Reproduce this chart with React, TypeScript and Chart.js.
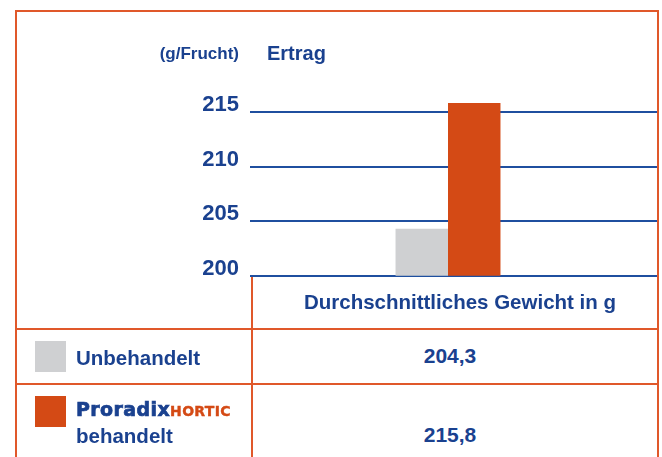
import React, { useEffect, useRef } from "react";
import { Chart, registerables } from "chart.js";

Chart.register(...registerables);

const categories = ["Durchschnittliches Gewicht in g"];
const seriesNames = ["Unbehandelt", "Proradix HORTIC behandelt"];
const untreated = [204.3];
const treated = [215.8];
const tableValues = ["204,3", "215,8"];
const yTicks = [200, 205, 210, 215];
const yMin = 200;
const yMax = 217;

const BLUE = "#1a418f";
const GRID = "#1f4f9f";
const ORANGE = "#d44a15";
const BORDER = "#e0582a";
const GRAY = "#cfd0d2";
const FONT = "'Liberation Sans', Arial, sans-serif";

const gridExtend = {
  id: "gridExtend",
  beforeDatasetsDraw(chart: any) {
    const y = chart.scales.y;
    const ctx = chart.ctx;
    ctx.save();
    ctx.strokeStyle = GRID;
    ctx.lineWidth = 2;
    y.ticks.forEach((t: any) => {
      const py = Math.round(y.getPixelForValue(t.value));
      ctx.beginPath();
      ctx.moveTo(chart.chartArea.right, py);
      ctx.lineTo(658, py);
      ctx.stroke();
    });
    ctx.restore();
  },
};

function T(props: { left: number; top: number; size: number; children: any; width?: number; align?: any; color?: string }) {
  const { left, top, size, children, width, align, color } = props;
  return (
    <div
      style={{
        position: "absolute",
        left,
        top,
        width,
        textAlign: align || "left",
        fontFamily: FONT,
        fontWeight: "bold",
        fontSize: size,
        lineHeight: `${size}px`,
        color: color || BLUE,
        whiteSpace: "nowrap",
      }}
    >
      {children}
    </div>
  );
}

function Line(props: { left: number; top: number; width: number; height: number }) {
  return <div style={{ position: "absolute", background: BORDER, ...props }} />;
}

export default function App() {
  const ref = useRef<HTMLCanvasElement>(null);
  useEffect(() => {
    if (!ref.current) return;
    const chart = new Chart(ref.current, {
      type: "bar",
      data: {
        labels: categories,
        datasets: [
          { label: seriesNames[0], data: untreated, backgroundColor: GRAY, borderWidth: 0 },
          { label: seriesNames[1], data: treated, backgroundColor: ORANGE, borderWidth: 0 },
        ],
      },
      options: {
        animation: false,
        responsive: false,
        events: [],
        layout: { padding: { top: 90, bottom: 24, left: 0, right: 16 } },
        datasets: { bar: { categoryPercentage: 0.265, barPercentage: 1 } },
        plugins: { legend: { display: false }, tooltip: { enabled: false } },
        scales: {
          x: { display: false },
          y: {
            min: yMin,
            max: yMax,
            afterBuildTicks: (s: any) => {
              s.ticks = yTicks.map((v) => ({ value: v }));
            },
            afterFit: (s: any) => {
              s.width = 250;
            },
            border: { display: false },
            grid: { color: GRID, lineWidth: 2, drawTicks: false },
            ticks: {
              padding: 11,
              labelOffset: -7,
              color: BLUE,
              font: { family: FONT, size: 22, weight: "bold" },
            },
          },
        },
      },
      plugins: [gridExtend],
    } as any);
    return () => chart.destroy();
  }, []);

  return (
    <div style={{ position: "absolute", left: 0, top: 0, width: 662, height: 457, overflow: "hidden", background: "#fff" }}>
      <canvas ref={ref} width={662} height={300} style={{ position: "absolute", left: 0, top: 0 }} />
      <Line left={15} top={10} width={644} height={2} />
      <Line left={15} top={10} width={2} height={460} />
      <Line left={657} top={10} width={2} height={460} />
      <Line left={251} top={277} width={2} height={190} />
      <Line left={15} top={328} width={644} height={2} />
      <Line left={15} top={383} width={644} height={2} />
      <T left={0} width={239} align="right" top={44.6} size={17}>(g/Frucht)</T>
      <T left={267} top={42.6} size={20}>Ertrag</T>
      <T left={262} width={396} align="center" top={291.6} size={20.5}>{categories[0]}</T>
      <div style={{ position: "absolute", left: 35, top: 341, width: 31, height: 31, background: GRAY }} />
      <div style={{ position: "absolute", left: 35, top: 396, width: 31, height: 31, background: ORANGE }} />
      <T left={76} top={347.6} size={20.5}>{seriesNames[0]}</T>
      <div
        style={{
          position: "absolute",
          left: 76,
          top: 399.5,
          fontFamily: "'DejaVu Sans', sans-serif",
          fontWeight: "bold",
          fontSize: 19,
          lineHeight: "19px",
          whiteSpace: "nowrap",
          color: BLUE,
        }}
      >
        <span style={{ letterSpacing: 0.4, WebkitTextStroke: "0.7px " + BLUE } as any}>Proradix</span>
        <span style={{ color: ORANGE, fontSize: 14, letterSpacing: 0.3, WebkitTextStroke: "0.4px " + ORANGE } as any}>HORTIC</span>
      </div>
      <T left={76} top={425.6} size={20.5}>behandelt</T>
      <T left={350} width={200} align="center" top={345.2} size={21}>{tableValues[0]}</T>
      <T left={350} width={200} align="center" top={424} size={21}>{tableValues[1]}</T>
    </div>
  );
}
